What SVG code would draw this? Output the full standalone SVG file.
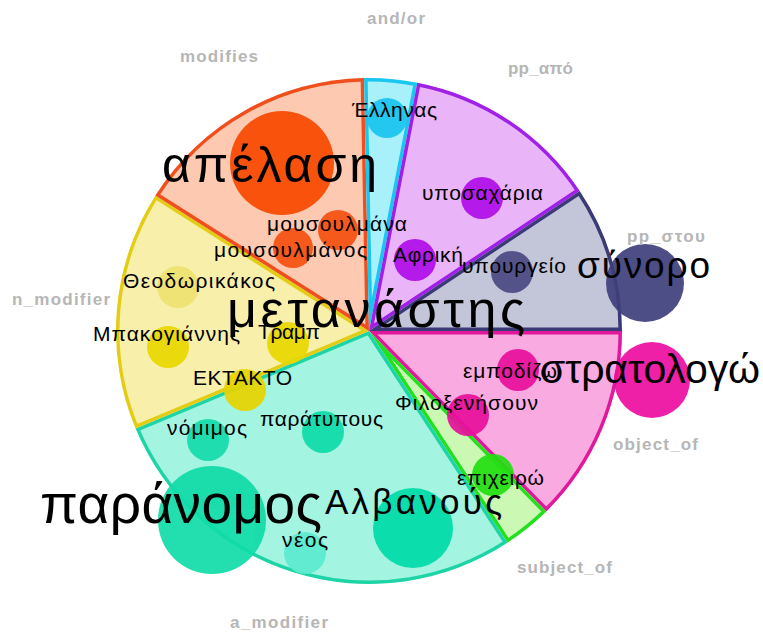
<svg xmlns="http://www.w3.org/2000/svg" width="763" height="633" viewBox="0 0 763 633">
<style>
.t{font-family:"Liberation Sans",Arial,sans-serif;fill:#000;font-size:21px}
.cat{font-family:"Liberation Sans",Arial,sans-serif;font-weight:bold;fill:#b6b6b6;font-size:17px}
.w{stroke-width:7}
.b{opacity:0.92}
</style>
<defs>
<path id="p-obj" d="M369,331 L622,331 A253,253 0 0 1 546.3,511.5 Z"/>
<path id="p-subj" d="M369,331 L546.3,511.5 A253,253 0 0 1 507.5,542.7 Z"/>
<path id="p-amod" d="M369,331 L507.5,542.7 A253,253 0 0 1 135.6,428.6 Z"/>
<path id="p-nmod" d="M369,331 L135.6,428.6 A253,253 0 0 1 155.4,195.4 Z"/>
<path id="p-mod" d="M369,331 L155.4,195.4 A253,253 0 0 1 364.1,78 Z"/>
<path id="p-and" d="M369,331 L364.1,78 A253,253 0 0 1 417.3,82.7 Z"/>
<path id="p-apo" d="M369,331 L417.3,82.7 A253,253 0 0 1 579.7,191 Z"/>
<path id="p-stou" d="M369,331 L579.7,191 A253,253 0 0 1 622,331 Z"/>
<clipPath id="c-obj"><use href="#p-obj"/></clipPath>
<clipPath id="c-subj"><use href="#p-subj"/></clipPath>
<clipPath id="c-amod"><use href="#p-amod"/></clipPath>
<clipPath id="c-nmod"><use href="#p-nmod"/></clipPath>
<clipPath id="c-mod"><use href="#p-mod"/></clipPath>
<clipPath id="c-and"><use href="#p-and"/></clipPath>
<clipPath id="c-apo"><use href="#p-apo"/></clipPath>
<clipPath id="c-stou"><use href="#p-stou"/></clipPath>
</defs>
<rect width="763" height="633" fill="#fff"/>
<g id="wedges">
<g id="wedge-object_of"><use href="#p-obj" class="w" fill="#f9aae0" stroke="#e0189c" clip-path="url(#c-obj)"/></g>
<g id="wedge-subject_of"><use href="#p-subj" class="w" fill="#cbf9b3" stroke="#22e01e" clip-path="url(#c-subj)"/></g>
<g id="wedge-a_modifier"><use href="#p-amod" class="w" fill="#a3f4e1" stroke="#1ed4a6" clip-path="url(#c-amod)"/></g>
<g id="wedge-n_modifier"><use href="#p-nmod" class="w" fill="#f8f0aa" stroke="#e2cc14" clip-path="url(#c-nmod)"/></g>
<g id="wedge-modifies"><use href="#p-mod" class="w" fill="#fdc9b1" stroke="#f04e1c" clip-path="url(#c-mod)"/></g>
<g id="wedge-and_or"><use href="#p-and" class="w" fill="#a8f0fa" stroke="#18c6f0" clip-path="url(#c-and)"/></g>
<g id="wedge-pp_apo"><use href="#p-apo" class="w" fill="#e9b4f8" stroke="#a020e8" clip-path="url(#c-apo)"/></g>
<g id="wedge-pp_stou"><use href="#p-stou" class="w" fill="#c3c5d9" stroke="#3a3a78" clip-path="url(#c-stou)"/></g>
</g>
<g id="bubbles" class="b">
<circle cx="282" cy="163" r="52" fill="#f84800"/>
<circle cx="338" cy="230" r="20" fill="#f65010"/>
<circle cx="293" cy="248" r="20" fill="#f65010"/>
<circle cx="387" cy="118" r="20" fill="#18c4f0"/>
<circle cx="482" cy="198" r="21" fill="#b00ee8"/>
<circle cx="415" cy="260" r="21" fill="#b00ee8"/>
<circle cx="512" cy="272" r="21" fill="#4a4a84"/>
<circle cx="645" cy="283" r="39" fill="#3f3f7c"/>
<circle cx="518" cy="370" r="21" fill="#e8109c"/>
<circle cx="468" cy="415" r="21" fill="#e8109c"/>
<circle cx="652" cy="380" r="38" fill="#ec0ea0"/>
<circle cx="493" cy="475" r="21" fill="#22e010"/>
<circle cx="208" cy="440" r="21" fill="#14dcaa"/>
<circle cx="323" cy="432" r="21" fill="#0edca8"/>
<circle cx="212" cy="520" r="54" fill="#10dca8"/>
<circle cx="413" cy="528" r="40" fill="#00dca8"/>
<circle cx="305" cy="553" r="21" fill="#5cecd0"/>
<circle cx="178" cy="287" r="21" fill="#f0e272"/>
<circle cx="168" cy="347" r="21" fill="#e8d800"/>
<circle cx="288" cy="343" r="21" fill="#e8d800"/>
<circle cx="245" cy="390" r="21" fill="#e8d400"/>
</g>
<g id="words">
<text class="t" x="162" y="182" style="font-size:50px" textLength="215">απέλαση</text>
<text class="t" x="267" y="231" textLength="140">μουσουλμάνα</text>
<text class="t" x="214" y="257" textLength="153">μουσουλμάνος</text>
<text class="t" x="352" y="117" textLength="85">Έλληνας</text>
<text class="t" x="422" y="200" textLength="121">υποσαχάρια</text>
<text class="t" x="393" y="262" textLength="70">Αφρική</text>
<text class="t" x="462" y="273" textLength="104">υπουργείο</text>
<text class="t" x="577" y="278" style="font-size:37px" textLength="133">σύνορο</text>
<text class="t" x="463" y="378" textLength="94">εμποδίζω</text>
<text class="t" x="395" y="410" textLength="143">Φιλοξενήσουν</text>
<text class="t" x="540" y="383" style="font-size:41px" textLength="220">στρατολογώ</text>
<text class="t" x="457" y="485" textLength="87">επιχειρώ</text>
<text class="t" x="167" y="435" textLength="80">νόμιμος</text>
<text class="t" x="260" y="426" textLength="123">παράτυπους</text>
<text class="t" x="40" y="523" style="font-size:55px" textLength="282">παράνομος</text>
<text class="t" x="325" y="514" style="font-size:35px" textLength="177">Αλβανούς</text>
<text class="t" x="282" y="547" textLength="46">νέος</text>
<text class="t" x="123" y="288" textLength="152">Θεοδωρικάκος</text>
<text class="t" x="93" y="341" textLength="147">Μπακογιάννης</text>
<text class="t" x="258" y="339" textLength="62">Τραμπ</text>
<text class="t" x="193" y="385" textLength="99">ΕΚΤΑΚΤΟ</text>
<text class="t" x="227" y="327" style="font-size:52px" textLength="298">μετανάστης</text>
</g>
<g id="relations">
<text class="cat" x="180" y="62" textLength="78">modifies</text>
<text class="cat" x="367" y="24" textLength="58">and/or</text>
<text class="cat" x="508" y="74" textLength="65">pp_από</text>
<text class="cat" x="627" y="242" textLength="78">pp_στου</text>
<text class="cat" x="613" y="450" textLength="85">object_of</text>
<text class="cat" x="517" y="573" textLength="95">subject_of</text>
<text class="cat" x="230" y="628" textLength="98">a_modifier</text>
<text class="cat" x="12" y="305" textLength="98">n_modifier</text>
</g>
</svg>
